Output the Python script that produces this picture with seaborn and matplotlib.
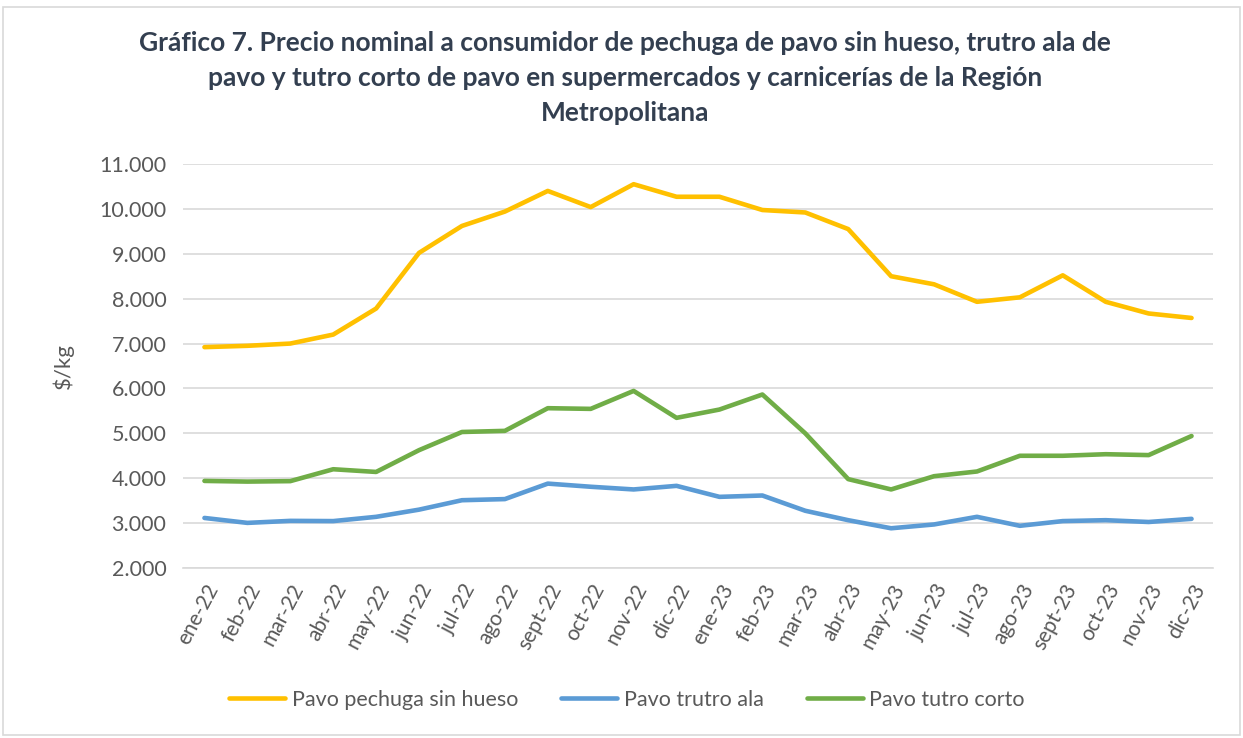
import pandas as pd
import matplotlib.pyplot as plt
import seaborn as sns
from matplotlib.patches import Rectangle
from matplotlib.ticker import FuncFormatter, FixedLocator

# Data ($/kg)
meses = ["ene-22", "feb-22", "mar-22", "abr-22", "may-22", "jun-22", "jul-22", "ago-22",
         "sept-22", "oct-22", "nov-22", "dic-22", "ene-23", "feb-23", "mar-23", "abr-23",
         "may-23", "jun-23", "jul-23", "ago-23", "sept-23", "oct-23", "nov-23", "dic-23"]
pechuga = [6920, 6950, 7000, 7200, 7780, 9020, 9620, 9940, 10400, 10040, 10550, 10270,
           10270, 9975, 9920, 9550, 8500, 8320, 7930, 8030, 8520, 7930, 7670, 7570]
trutro_ala = [3115, 3005, 3050, 3045, 3140, 3300, 3510, 3535, 3880, 3810, 3750, 3830,
              3585, 3615, 3275, 3065, 2885, 2970, 3140, 2940, 3045, 3065, 3025, 3095]
tutro_corto = [3940, 3925, 3935, 4200, 4140, 4625, 5030, 5055, 5560, 5545, 5945, 5345,
               5530, 5865, 5000, 3980, 3750, 4045, 4150, 4500, 4500, 4535, 4515, 4940]
series = ["Pavo pechuga sin hueso", "Pavo trutro ala", "Pavo tutro corto"]
colores = ["#FFC000", "#5B9BD5", "#70AD47"]

df = pd.DataFrame({"Mes": meses * 3,
                   "x": list(range(len(meses))) * 3,
                   "Precio": pechuga + trutro_ala + tutro_corto,
                   "Serie": [s for s in series for _ in meses]})

sns.set_theme(style="white")
plt.rcParams["font.family"] = ["Lato", "DejaVu Sans"]

fig = plt.figure(figsize=(12.43, 7.38), dpi=100)
ax = fig.add_axes([183 / 1243, 1 - 568 / 738, 1030 / 1243, 404 / 738])

sns.lineplot(data=df, x="x", y="Precio", hue="Serie", palette=colores,
             linewidth=3.3, ax=ax, legend=False, solid_capstyle="round")

ax.set_xlim(-0.5, len(meses) - 0.5)
ax.set_ylim(2000, 11000)
ax.set_yticks(range(2000, 11001, 1000))
ax.yaxis.set_major_formatter(FuncFormatter(lambda v, p: f"{int(v):,}".replace(",", ".")))
ax.grid(axis="y", color="#D9D9D9", linewidth=1.2)
ax.set_axisbelow(True)
for s in ["top", "right", "left"]:
    ax.spines[s].set_visible(False)
ax.spines["bottom"].set_color("#D9D9D9")
ax.spines["bottom"].set_linewidth(1.2)

ax.set_xticks(range(len(meses)))
ax.set_xticklabels(meses, rotation=62, ha="right", rotation_mode="anchor",
                   fontsize=15, color="#595959")
ax.tick_params(axis="x", which="major", length=0, pad=9)
ax.xaxis.set_minor_locator(FixedLocator([i - 0.5 for i in range(len(meses) + 1)]))
ax.tick_params(axis="x", which="minor", length=7, color="#D9D9D9", width=1.2)
ax.tick_params(axis="y", length=0, labelsize=15.5, labelcolor="#595959", pad=12)

ax.set_xlabel("")
ax.set_ylabel("$/kg", fontsize=16, color="#595959", labelpad=18)

fig.suptitle("Gráfico 7. Precio nominal a consumidor de pechuga de pavo sin hueso, trutro ala de\n"
             "pavo y tutro corto de pavo en supermercados y carnicerías de la Región\n"
             "Metropolitana",
             x=625 / 1243, y=1 - 31 / 738, fontsize=19, fontweight="bold",
             color="#333F50", linespacing=1.55, va="top")

handles = [plt.Line2D([], [], color=c, linewidth=3.3) for c in colores]
fig.legend(handles, series, loc="center", bbox_to_anchor=(627 / 1243, 1 - 700 / 738),
           ncol=3, frameon=False, fontsize=15.5, handlelength=2.6, columnspacing=2.0,
           handletextpad=0.3, labelcolor="#595959")

fig.add_artist(Rectangle((3 / 1243, 3 / 738), 1237 / 1243, 728 / 738,
                         transform=fig.transFigure, fill=False,
                         edgecolor="#D9D9D9", linewidth=1.2))

fig.savefig("out.png", dpi=100)
